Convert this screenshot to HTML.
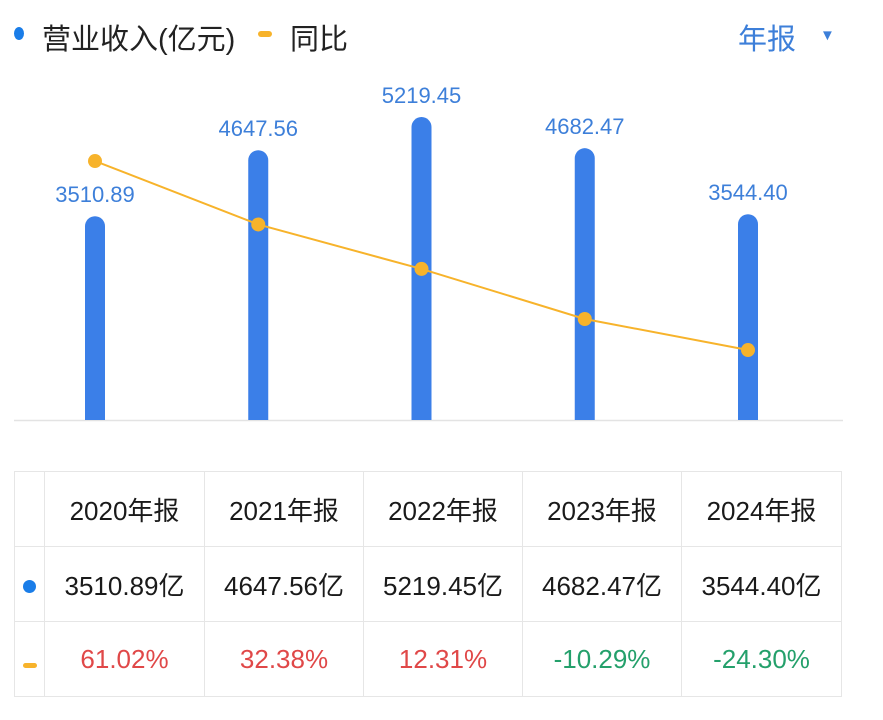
<!DOCTYPE html>
<html><head><meta charset="utf-8"><style>
body{margin:0;width:883px;height:720px;background:#fff;font-family:"Liberation Sans","Noto Sans CJK SC",sans-serif;overflow:hidden;position:relative}
.lg{position:absolute;top:16px;font-size:29px;color:#222;white-space:nowrap}
table{position:absolute;left:14px;top:471px;border-collapse:collapse;font-size:26px;color:#1a1a1a}
td{border:1.5px solid #e6e6e6;text-align:center;height:74px;padding:0}
.r{color:#e04848}.g{color:#24a06b}
</style></head><body>
<div>
<div style="position:absolute;left:14px;top:27px;width:10px;height:13px;border-radius:50%;background:#1a7de8"></div>
<div class="lg" style="left:42px">营业收入(亿元)</div>
<div style="position:absolute;left:258px;top:31px;width:14px;height:6px;border-radius:3px;background:#f7b32b"></div>
<div class="lg" style="left:290px">同比</div>
</div>
<div style="position:absolute;left:738px;top:16px;font-size:29px;color:#3d7fd9;white-space:nowrap">年报<span style="font-size:15px;position:absolute;left:82px;top:11px">▼</span></div>
<svg width="883" height="460" style="position:absolute;left:0;top:0" id="chart"></svg>
<table>
<tr><td style="width:29px"></td><td style="width:159px">2020年报</td><td style="width:158px">2021年报</td><td style="width:158px">2022年报</td><td style="width:158px">2023年报</td><td style="width:159px">2024年报</td></tr>
<tr><td><span style="display:inline-block;width:13px;height:13px;border-radius:50%;background:#1a7de8"></span></td><td>3510.89亿</td><td>4647.56亿</td><td>5219.45亿</td><td>4682.47亿</td><td>3544.40亿</td></tr>
<tr><td><span style="display:inline-block;width:14px;height:5px;border-radius:3px;background:#f7b32b"></span></td><td class="r">61.02%</td><td class="r">32.38%</td><td class="r">12.31%</td><td class="g">-10.29%</td><td class="g">-24.30%</td></tr>
</table>
<script>
const categories=["2020","2021","2022","2023","2024"];
const revenue=[3510.89,4647.56,5219.45,4682.47,3544.40];
const yoy=[61.02,32.38,12.31,-10.29,-24.30];
const NS="http://www.w3.org/2000/svg";
const svg=document.getElementById('chart');
const x=i=>95+i*163.25;
const yBar=v=>420-v*0.05805;
const yLine=v=>296.2-v*2.215;
function mk(t,a){const e=document.createElementNS(NS,t);for(const k in a)e.setAttribute(k,a[k]);svg.appendChild(e);return e;}
const base=mk('line',{x1:14,x2:843,y1:420.5,y2:420.5,stroke:'#e3e3e3','stroke-width':1.5});


revenue.forEach((v,i)=>{
 const t=yBar(v);
 const b=mk('path',{d:`M${x(i)-10},420 V${t+10} A10,10 0 0 1 ${x(i)+10},${t+10} V420 Z`,fill:'#3b7fe8'});
 
 
 const l=mk('text',{x:x(i),y:t-14,'text-anchor':'middle','font-size':22,fill:'#3d7fd9','font-family':'Liberation Sans, sans-serif'});
 l.textContent=v.toFixed(2);
 
 
});
const ln=mk('polyline',{points:yoy.map((v,i)=>x(i)+','+yLine(v)).join(' '),fill:'none',stroke:'#f7b32b','stroke-width':2});


yoy.forEach((v,i)=>{
 const c=mk('circle',{cx:x(i),cy:yLine(v),r:7,fill:'#f7b32b'});
 
 
});
</script>
</body></html>
